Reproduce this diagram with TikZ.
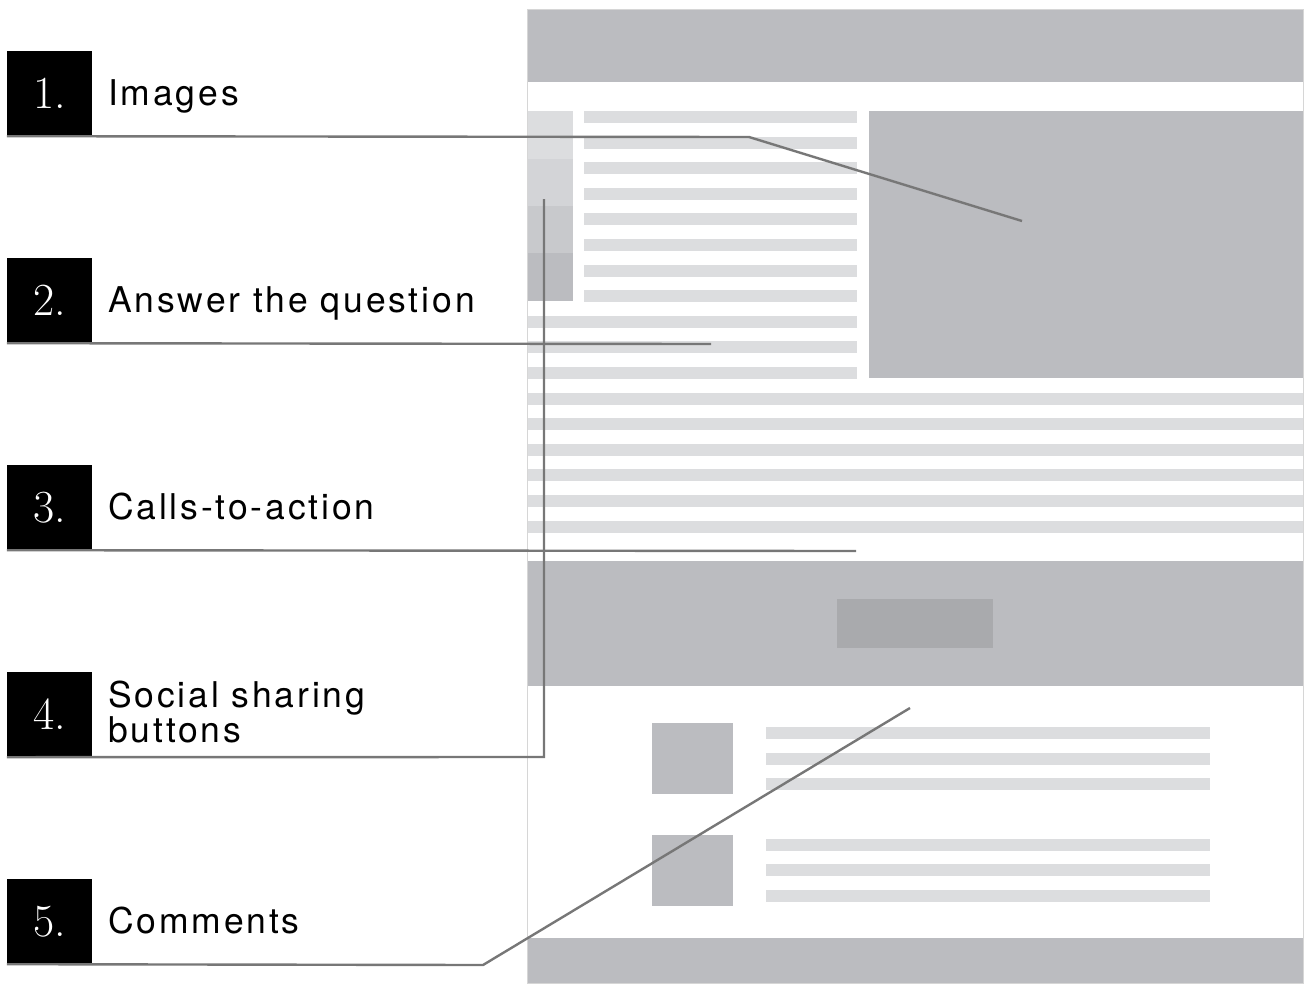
\documentclass[tikz,border=0pt]{standalone}
\usepackage{fontspec}
\usepackage{tikz}
\newfontfamily\labfont[LetterSpace=8]{TeX Gyre Heros}

\definecolor{blockgray}{HTML}{BBBCC0}
\definecolor{stripegray}{HTML}{DCDDDF}
\definecolor{buttongray}{HTML}{A9AAAD}
\definecolor{shadeb}{HTML}{D3D4D7}
\definecolor{shadec}{HTML}{C8C9CC}
\definecolor{framegray}{HTML}{D6D6D6}
\definecolor{linegray}{HTML}{777777}

\tikzset{
  numbox/.style={fill=black,text=white,minimum size=85pt,inner sep=0pt,
    font=\fontsize{46}{46}\selectfont},
  lab/.style={inner sep=0pt,font=\labfont\fontsize{35.5}{35}\selectfont},
  callout/.style={draw=linegray,line width=2.4pt},
  stripe/.style={fill=stripegray},
  block/.style={fill=blockgray}
}

\begin{document}
\begin{tikzpicture}[x=1pt,y=-1pt]
\useasboundingbox (0,0) rectangle (1304,983);

% page mock-up
\draw[framegray,line width=1pt] (527,9) rectangle (1303,983);
\fill[block] (528,10) rectangle (1303,82);
\fill[stripegray] (528,111) rectangle (573,159);
\fill[shadeb] (528,159) rectangle (573,206);
\fill[shadec] (528,206) rectangle (573,253);
\fill[block] (528,253) rectangle (573,301);
\foreach \k in {0,...,7}
  \fill[stripe] (584,111+25.6*\k) rectangle (857,123+25.6*\k);
\foreach \k in {8,...,10}
  \fill[stripe] (528,111+25.6*\k) rectangle (857,123+25.6*\k);
\foreach \k in {11,...,16}
  \fill[stripe] (528,111+25.6*\k) rectangle (1303,123+25.6*\k);
\fill[block] (869,111) rectangle (1303,378);
\fill[block] (528,561) rectangle (1303,686);
\fill[buttongray] (837,599) rectangle (993,648);
\fill[block] (652,723) rectangle (733,794);
\fill[block] (652,835) rectangle (733,906);
\foreach \y in {727,753,778,839,864,890}
  \fill[stripe] (766,\y) rectangle (1210,\y+12);
\fill[block] (528,938) rectangle (1303,983);

% numbered labels
\draw (49.5,93.5) node[numbox] (num1) {1.};
\draw (49.5,300.5) node[numbox] (num2) {2.};
\draw (49.5,507.5) node[numbox] (num3) {3.};
\draw (49.5,714.5) node[numbox] (num4) {4.};
\draw (49.5,921.5) node[numbox] (num5) {5.};

\draw (108,105) node[lab,anchor=base west] (lab1) {Images};
\draw (108,312) node[lab,anchor=base west] (lab2) {Answer the question};
\draw (108,519) node[lab,anchor=base west] (lab3) {Calls-to-action};
\draw (108,712) node[lab,anchor=west,align=left] (lab4) {Social sharing\\buttons};
\draw (108,933) node[lab,anchor=base west] (lab5) {Comments};

% callout ends
\coordinate (bend1) at (749,137);
\coordinate (tip1) at (1022,221);
\coordinate (tip2) at (711,344);
\coordinate (tip3) at (856,551);
\coordinate (bend4) at (544,757);
\coordinate (tip4) at (544,199);
\coordinate (bend5) at (483,965);
\coordinate (tip5) at (910,708);

\draw[callout] (num1.south west) -- (bend1) -- (tip1);
\draw[callout] (num2.south west) -- (tip2);
\draw[callout] (num3.south west) -- (tip3);
\draw[callout] (num4.south west) -- (bend4) -- (tip4);
\draw[callout] (num5.south west) -- (bend5) -- (tip5);
\end{tikzpicture}
\end{document}
